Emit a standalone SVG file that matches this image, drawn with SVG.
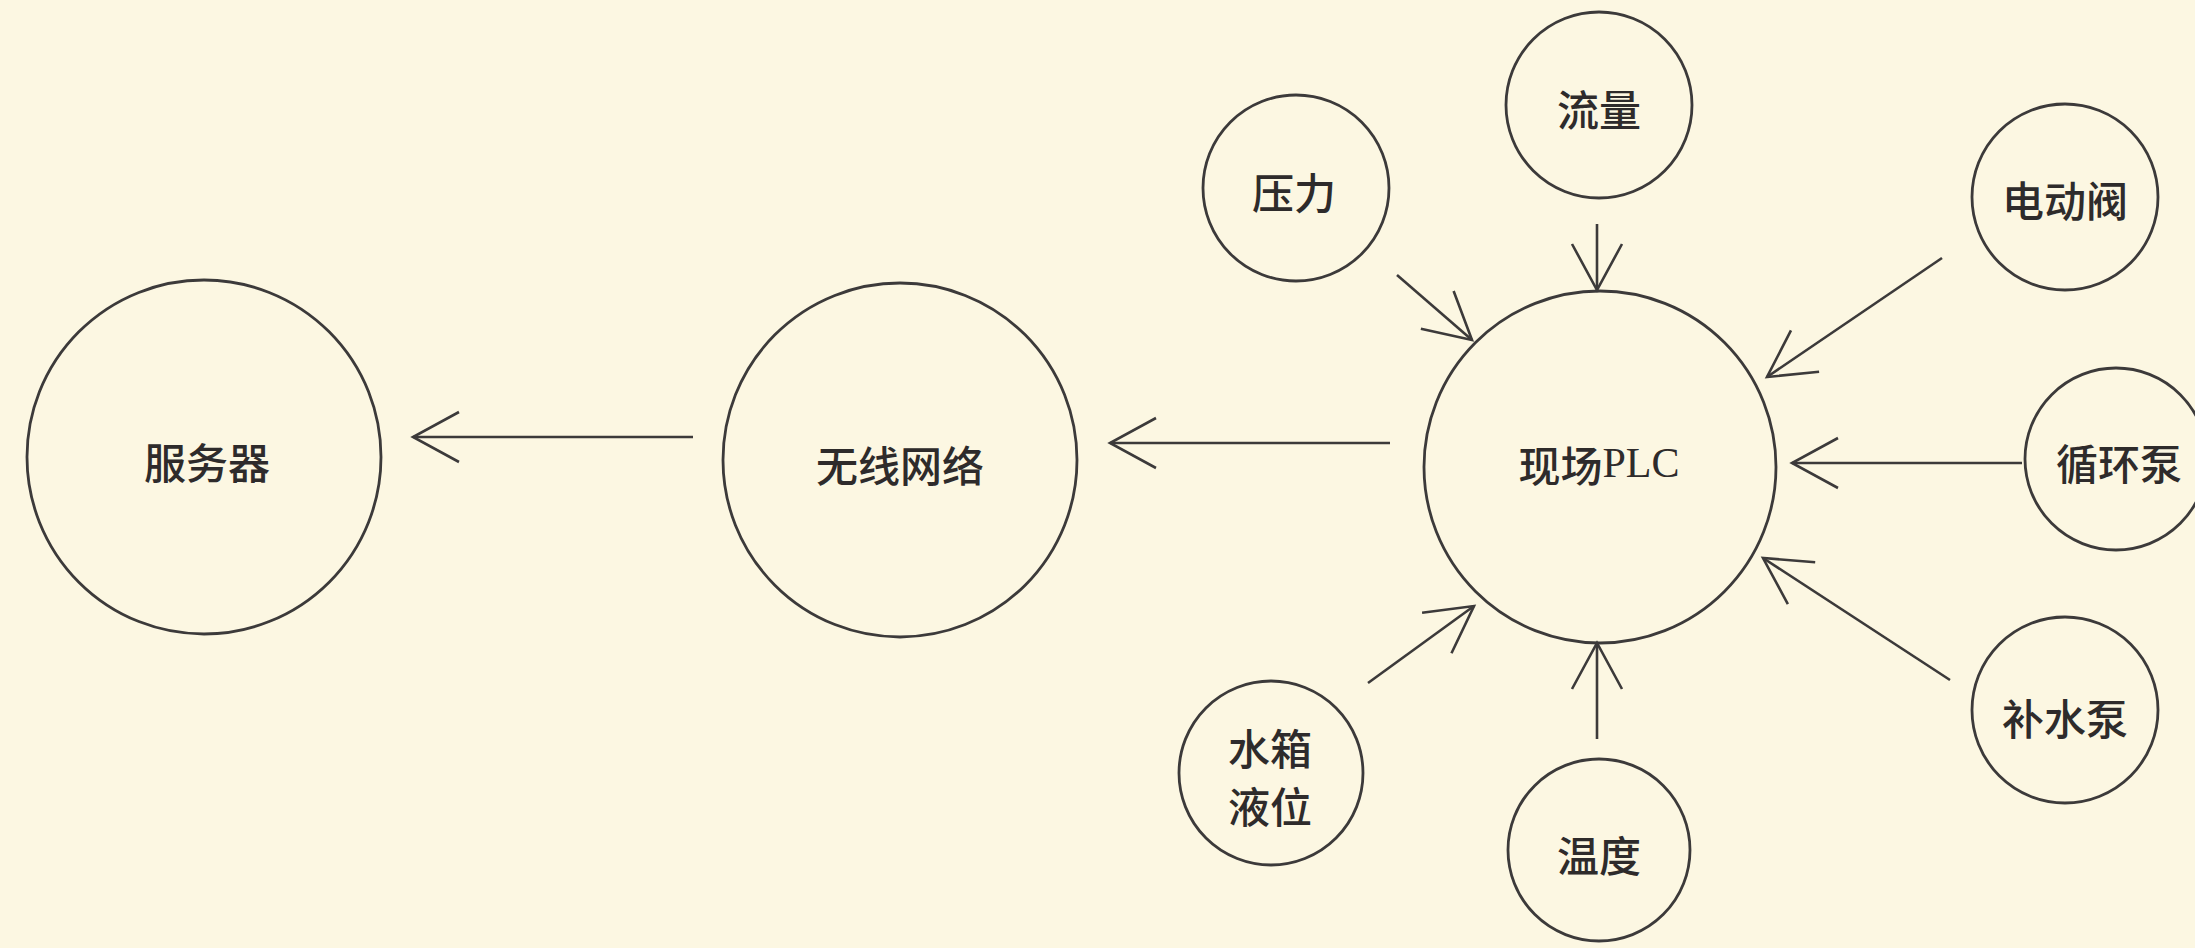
<svg xmlns="http://www.w3.org/2000/svg" width="2195" height="948" viewBox="0 0 2195 948">
  <style>
    .node circle { fill: none; stroke: #3c3a3a; stroke-width: 2.8; }
    .node text { font-family: "Noto Sans CJK SC", "Liberation Sans", sans-serif; font-size: 42px; font-weight: 500; fill: #2e2b2b; text-anchor: middle; dominant-baseline: central; }
    .node text .lat { font-family: "Liberation Serif", "Noto Sans CJK SC", serif; font-weight: normal; }
    .conn line { stroke: #3c3a3a; stroke-width: 2.6; marker-end: url(#arr); }
  </style>
  <defs>
    <marker id="arr" markerUnits="userSpaceOnUse" markerWidth="70" markerHeight="70" viewBox="-55 -35 70 70" refX="0" refY="0" orient="auto">
      <path d="M-46,-25 L0,0 L-46,25" fill="none" stroke="#3c3a3a" stroke-width="2.6"/>
    </marker>
  </defs>
  <rect x="0" y="0" width="2195" height="948" fill="#fcf7e2"/>

  <g id="connectors" class="conn">
    <line x1="693" y1="437" x2="413" y2="437"/>
    <line x1="1390" y1="443" x2="1110" y2="443"/>
    <line x1="1597" y1="224" x2="1597" y2="290"/>
    <line x1="1397" y1="275" x2="1472" y2="340"/>
    <line x1="1942" y1="258" x2="1767" y2="377"/>
    <line x1="2022" y1="463" x2="1792" y2="463"/>
    <line x1="1950" y1="680" x2="1763" y2="558"/>
    <line x1="1597" y1="739" x2="1597" y2="643"/>
    <line x1="1368" y1="683" x2="1474" y2="606"/>
  </g>

  <g id="node-server" class="node">
    <circle cx="204" cy="457" r="177"/>
    <text x="207" y="460">服务器</text>
  </g>
  <g id="node-wireless" class="node">
    <circle cx="900" cy="460" r="177"/>
    <text x="900" y="463">无线网络</text>
  </g>
  <g id="node-plc" class="node">
    <circle cx="1600" cy="467" r="176"/>
    <text x="1599" y="463">现场<tspan class="lat">PLC</tspan></text>
  </g>
  <g id="node-pressure" class="node">
    <circle cx="1296" cy="188" r="93"/>
    <text x="1294" y="190">压力</text>
  </g>
  <g id="node-flow" class="node">
    <circle cx="1599" cy="105" r="93"/>
    <text x="1599" y="107">流量</text>
  </g>
  <g id="node-valve" class="node">
    <circle cx="2065" cy="197" r="93"/>
    <text x="2065" y="198">电动阀</text>
  </g>
  <g id="node-circpump" class="node">
    <circle cx="2116" cy="459" r="91"/>
    <text x="2119" y="461">循环泵</text>
  </g>
  <g id="node-makeuppump" class="node">
    <circle cx="2065" cy="710" r="93"/>
    <text x="2065" y="716">补水泵</text>
  </g>
  <g id="node-temp" class="node">
    <circle cx="1599" cy="850" r="91"/>
    <text x="1599" y="853">温度</text>
  </g>
  <g id="node-tank" class="node">
    <circle cx="1271" cy="773" r="92"/>
    <text x="1270" y="746">水箱</text>
    <text x="1270" y="804">液位</text>
  </g>
</svg>
